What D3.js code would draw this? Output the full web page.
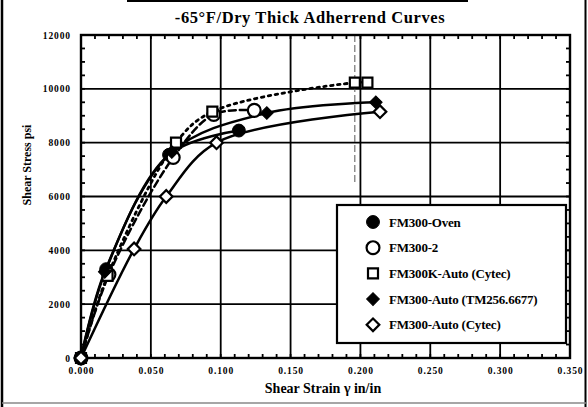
<!DOCTYPE html>
<html>
<head>
<meta charset="utf-8">
<script src="https://cdn.jsdelivr.net/npm/d3@7"></script>
<style>
  body { margin: 0; background: #fff; }
  svg { display: block; font-family: "Liberation Serif", "DejaVu Serif", serif; font-weight: bold; }
</style>
</head>
<body>
<svg id="chart" width="588" height="407"></svg>
<script>
// Chart data
let xTicks = [0, 0.05, 0.10, 0.15, 0.20, 0.25, 0.30, 0.35];
let xTickLabels = ["0.000", "0.050", "0.100", "0.150", "0.200", "0.250", "0.300", "0.350"];
let yTicks = [0, 2000, 4000, 6000, 8000, 10000, 12000];
let yTickLabels = ["0", "2000", "4000", "6000", "8000", "10000", "12000"];

let seriesNames = ["FM300-Oven", "FM300-2", "FM300K-Auto (Cytec)", "FM300-Auto (TM256.6677)", "FM300-Auto (Cytec)"];
let ovenStrain = [0, 0.018, 0.063, 0.113];
let ovenStress = [0, 3300, 7550, 8450];
let fm2Strain = [0, 0.020, 0.066, 0.095, 0.124];
let fm2Stress = [0, 3100, 7450, 9050, 9200];
let fmkStrain = [0, 0.019, 0.068, 0.094, 0.196, 0.205];
let fmkStress = [0, 3050, 8000, 9150, 10230, 10230];
let tmStrain = [0, 0.017, 0.065, 0.133, 0.211];
let tmStress = [0, 3200, 7650, 9100, 9500];
let cytecStrain = [0, 0.038, 0.061, 0.097, 0.214];
let cytecStress = [0, 4050, 6000, 8000, 9150];

// stray scan line near 0.2
let scanLineX = 0.196;

let svg = d3.select("#chart");

let x = d3.scaleLinear().domain([0, 0.35]).range([81, 570]);
let y = d3.scaleLinear().domain([0, 12000]).range([358, 35]);

// Outer page frame
svg.append("line").attr("x1", 2).attr("y1", 0).attr("x2", 2).attr("y2", 407)
    .attr("stroke", "#000").attr("stroke-width", 2.5);
svg.append("line").attr("x1", 585.5).attr("y1", 0).attr("x2", 585.5).attr("y2", 407)
    .attr("stroke", "#000").attr("stroke-width", 2);
svg.append("line").attr("x1", 2).attr("y1", 403).attr("x2", 586).attr("y2", 403)
    .attr("stroke", "#888").attr("stroke-width", 1.5);
svg.append("line").attr("x1", 127).attr("y1", 1).attr("x2", 468).attr("y2", 1)
    .attr("stroke", "#000").attr("stroke-width", 2);

// Title
svg.append("text")
    .attr("x", 310).attr("y", 23)
    .attr("text-anchor", "middle")
    .attr("font-size", 16.5)
    .attr("letter-spacing", 0.6)
    .text("-65°F/Dry Thick Adherrend Curves");

// Grid
let grid = svg.append("g").attr("stroke", "#000").attr("stroke-width", 1.8);
grid.selectAll(".vx").data(xTicks.slice(1, -1)).enter().append("line")
    .attr("x1", d => x(d)).attr("x2", d => x(d))
    .attr("y1", y(12000)).attr("y2", y(0));
grid.selectAll(".hy").data(yTicks.slice(1, -1)).enter().append("line")
    .attr("y1", d => y(d)).attr("y2", d => y(d))
    .attr("x1", x(0)).attr("x2", x(0.35));

svg.append("line")
    .attr("x1", x(scanLineX)).attr("x2", x(scanLineX))
    .attr("y1", y(12000)).attr("y2", y(6500))
    .attr("stroke", "#555").attr("stroke-width", 1).attr("stroke-dasharray", "7,3");

// Minor ticks, inward on all four sides
let minorX = d3.range(0, 36).map(i => i / 100);
let minorY = d3.range(0, 25).map(i => i * 500);
let minor = svg.append("g").attr("stroke", "#000").attr("stroke-width", 1.8);
minorX.forEach(v => {
    minor.append("line").attr("x1", x(v)).attr("x2", x(v)).attr("y1", y(0)).attr("y2", y(0) - 4);
    minor.append("line").attr("x1", x(v)).attr("x2", x(v)).attr("y1", y(12000)).attr("y2", y(12000) + 4);
});
minorY.forEach(v => {
    minor.append("line").attr("y1", y(v)).attr("y2", y(v)).attr("x1", x(0)).attr("x2", x(0) + 4);
    minor.append("line").attr("y1", y(v)).attr("y2", y(v)).attr("x1", x(0.35)).attr("x2", x(0.35) - 4);
});

// Plot frame
svg.append("rect")
    .attr("x", x(0)).attr("y", y(12000))
    .attr("width", x(0.35) - x(0)).attr("height", y(0) - y(12000))
    .attr("fill", "none").attr("stroke", "#000").attr("stroke-width", 2.4);

// Axes labels through d3 axes (lines hidden, labels only)
let xAxis = svg.append("g")
    .attr("transform", `translate(0,${y(0)})`)
    .call(d3.axisBottom(x).tickValues(xTicks).tickFormat((d, i) => xTickLabels[i]).tickSize(0).tickPadding(9));
xAxis.select(".domain").remove();
xAxis.selectAll("text")
    .attr("font-size", 9.5).attr("letter-spacing", 0.9)
    .attr("font-family", "Liberation Serif").attr("font-weight", "bold");

let yAxis = svg.append("g")
    .attr("transform", `translate(${x(0)},0)`)
    .call(d3.axisLeft(y).tickValues(yTicks).tickFormat((d, i) => yTickLabels[i]).tickSize(0).tickPadding(10));
yAxis.select(".domain").remove();
yAxis.selectAll("text")
    .attr("font-size", 9.5).attr("letter-spacing", 0.9)
    .attr("font-family", "Liberation Serif").attr("font-weight", "bold");

svg.append("text")
    .attr("x", 323).attr("y", 393)
    .attr("text-anchor", "middle")
    .attr("font-size", 14)
    .text("Shear Strain γ in/in");

svg.append("text")
    .attr("transform", "translate(31,165) rotate(-90)")
    .attr("text-anchor", "middle")
    .attr("font-size", 12)
    .text("Shear Stress psi");

// Series
let series = [
    { name: seriesNames[0], xs: ovenStrain, ys: ovenStress, dash: null, marker: "circle", fill: true },
    { name: seriesNames[1], xs: fm2Strain, ys: fm2Stress, dash: "7,4", marker: "circle", fill: false },
    { name: seriesNames[2], xs: fmkStrain, ys: fmkStress, dash: "2.5,4.5", marker: "square", fill: false },
    { name: seriesNames[3], xs: tmStrain, ys: tmStress, dash: null, marker: "diamond", fill: true },
    { name: seriesNames[4], xs: cytecStrain, ys: cytecStress, dash: null, marker: "diamond", fill: false }
];

let line = d3.line()
    .x(d => x(d[0]))
    .y(d => y(d[1]))
    .curve(d3.curveCatmullRom.alpha(0.5));

let symbolTypes = { circle: d3.symbolCircle, square: d3.symbolSquare, diamond: d3.symbolSquare };
let symbolSizes = { circle: 130, square: 100, diamond: 80 };

function drawMarker(g, s, cx, cy) {
    let sym = d3.symbol().type(symbolTypes[s.marker]).size(symbolSizes[s.marker]);
    g.append("path")
        .attr("d", sym())
        .attr("transform", `translate(${cx},${cy})` + (s.marker === "diamond" ? " rotate(45)" : ""))
        .attr("fill", s.fill ? "#000" : "#fff")
        .attr("stroke", "#000")
        .attr("stroke-width", s.fill ? 1 : 2.2);
}

let plot = svg.append("g");
series.forEach(s => {
    let pts = s.xs.map((v, i) => [v, s.ys[i]]);
    plot.append("path")
        .datum(pts)
        .attr("d", line)
        .attr("fill", "none")
        .attr("stroke", "#000")
        .attr("stroke-width", s.dash && s.dash.startsWith("2") ? 2.8 : 2.5)
        .attr("stroke-linecap", s.dash ? "round" : "butt")
        .attr("stroke-dasharray", s.dash);
});
series.forEach(s => {
    s.xs.forEach((v, i) => drawMarker(plot, s, x(v), y(s.ys[i])));
});

// Legend
let legend = svg.append("g");
legend.append("rect")
    .attr("x", 337).attr("y", 205).attr("width", 229).attr("height", 138)
    .attr("fill", "#fff").attr("stroke", "#000").attr("stroke-width", 2.2);
series.forEach((s, i) => {
    let ly = 222 + i * 25.7;
    drawMarker(legend, s, 373, ly);
    legend.append("text")
        .attr("x", 389).attr("y", ly + 4.5)
        .attr("font-size", 13)
        .attr("letter-spacing", -0.2)
        .text(s.name);
});
</script>
</body>
</html>
